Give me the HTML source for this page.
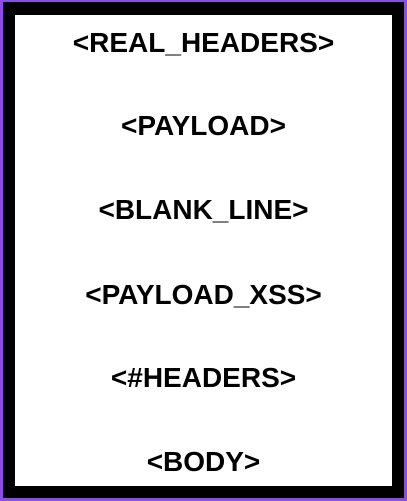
<!DOCTYPE html>
<html><head><style>
html,body{margin:0;padding:0;background:#fff;}
.o{position:absolute;left:0;top:0;width:407px;height:501px;box-sizing:border-box;background:#8a4fe0;}
.b{position:absolute;left:3px;top:2px;right:3px;bottom:3px;background:#000;}
.w{position:absolute;left:15px;top:15px;width:377px;height:471px;background:#fff;}
.t{position:absolute;left:0;width:407px;text-align:center;font-family:"Liberation Sans",sans-serif;font-weight:bold;font-size:28px;line-height:32px;color:#000;}
</style></head><body>
<div class="o"><div class="b"></div><div class="w"></div></div>
<div class="t" style="top:27px">&lt;REAL_HEADERS&gt;</div>
<div class="t" style="top:110px">&lt;PAYLOAD&gt;</div>
<div class="t" style="top:194px">&lt;BLANK_LINE&gt;</div>
<div class="t" style="top:279px">&lt;PAYLOAD_XSS&gt;</div>
<div class="t" style="top:362px">&lt;#HEADERS&gt;</div>
<div class="t" style="top:446px">&lt;BODY&gt;</div>
</body></html>
